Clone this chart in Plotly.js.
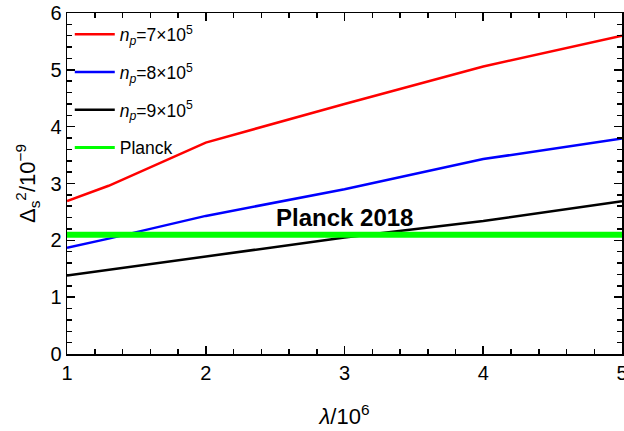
<!DOCTYPE html>
<html><head><meta charset="utf-8">
<script src="https://cdn.plot.ly/plotly-3.0.1.min.js"></script>
<style>html,body{margin:0;padding:0;background:#fff;}#chart{width:624px;height:431px;}</style>
</head><body><div id="chart"></div>
<script>
const lambdaVals = [1, 1.3, 2, 3, 4, 5];
const np7 = [2.69, 2.96, 3.72, 4.40, 5.06, 5.60];
const np8 = [1.87, 2.03, 2.43, 2.90, 3.43, 3.79];
const np9 = [1.38, 1.48, 1.72, 2.05, 2.34, 2.69];
const planckX = [1, 5];
const planckY = [2.1, 2.1];
const names = ["<i>n<sub>p</sub></i>=7×10<sup>5</sup>", "<i>n<sub>p</sub></i>=8×10<sup>5</sup>", "<i>n<sub>p</sub></i>=9×10<sup>5</sup>", "Planck"];
const annText = "Planck 2018";

const font = "Liberation Sans, Arial, sans-serif";
const traces = [
  {x: lambdaVals, y: np7, name: names[0], mode: 'lines', line: {color: '#ff0000', width: 2.5}, legendgroup: 'a'},
  {x: lambdaVals, y: np8, name: names[1], mode: 'lines', line: {color: '#0000ff', width: 2.5}, legendgroup: 'b'},
  {x: lambdaVals, y: np9, name: names[2], mode: 'lines', line: {color: '#000000', width: 2.5}, legendgroup: 'c'},
  {x: planckX, y: planckY, name: names[3], mode: 'lines', line: {color: '#00ff00', width: 6}, legendgroup: 'd', showlegend: false},
  {x: [null], y: [null], name: names[3], mode: 'lines', line: {color: '#00ff00', width: 3}, legendgroup: 'd'}
];
const axCommon = {
  showgrid: false, zeroline: false, showline: true, linecolor: '#000', linewidth: 1.5,
  mirror: 'ticks', ticks: 'inside', ticklen: 8, tickwidth: 1.6, tickcolor: '#000',
  ticklabeloverflow: 'allow',
  tickfont: {family: font, size: 20, color: '#000'},
  minor: {dtick: 0.2, ticks: 'inside', ticklen: 5, tickwidth: 1.5, tickcolor: '#000'}
};
const layout = {
  width: 624, height: 431,
  margin: {l: 67, r: 2, t: 13, b: 77},
  paper_bgcolor: '#fff', plot_bgcolor: '#fff',
  showlegend: true,
  legend: {x: 0.005, y: 0.99, xanchor: 'left', yanchor: 'top', bgcolor: 'rgba(0,0,0,0)',
    font: {family: font, size: 17.5, color: '#000'}, tracegroupgap: 12, itemwidth: 40},
  xaxis: Object.assign({}, axCommon, {range: [1, 5], dtick: 1, tick0: 0,
    title: {text: '<i>λ</i>/10<sup>6</sup>', font: {family: font, size: 22, color: '#000'}, standoff: 26}}),
  yaxis: Object.assign({}, axCommon, {range: [0, 6], dtick: 1, tick0: 0,
    title: {text: 'Δ<sub>s</sub><sup>2</sup>/10<sup>−9</sup>', font: {family: font, size: 22, color: '#000'}, standoff: 8}}),
  annotations: [{x: 3.0, y: 2.41, xref: 'x', yref: 'y', text: '<b>' + annText + '</b>', showarrow: false,
    font: {family: font, size: 24, color: '#000'}}]
};
Plotly.newPlot('chart', traces, layout, {staticPlot: true});
</script></body></html>
